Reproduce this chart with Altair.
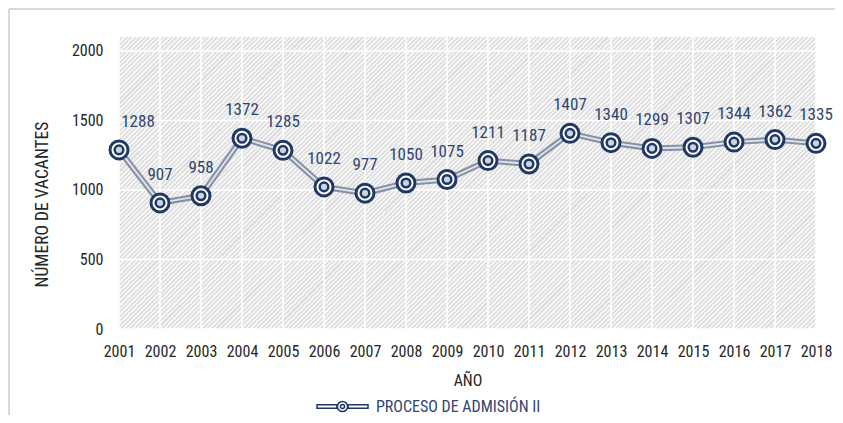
import altair as alt
import pandas as pd

# ---------------- data ----------------
years = [2001, 2002, 2003, 2004, 2005, 2006, 2007, 2008, 2009,
         2010, 2011, 2012, 2013, 2014, 2015, 2016, 2017, 2018]
vacantes = [1288, 907, 958, 1372, 1285, 1022, 977, 1050, 1075,
            1211, 1187, 1407, 1340, 1299, 1307, 1344, 1362, 1335]
y_ticks = [0, 500, 1000, 1500, 2000]
y_max = 2100
serie = "PROCESO DE ADMISIÓN II"

df = pd.DataFrame({"anio": years, "vacantes": vacantes, "serie": serie})
bg_df = pd.DataFrame({"x0": [years[0]], "x1": [years[-1]], "y0": [0], "y1": [y_max]})
ytick_df = pd.DataFrame({"v": y_ticks})
frame_df = pd.DataFrame({"a": [0]})

# ---------------- style ----------------
FONT = "Liberation Sans Narrow, Arial Narrow, Roboto Condensed, sans-serif"
NAVY = "#1f3864"
LABEL = "#2f4672"
TEXT = "#262626"
W, H = 697, 292

# fine diagonal hatch approximated with a hard-stop linear gradient
n_per = 218
stops = []
for k in range(n_per):
    a = k / n_per
    b = (k + 0.55) / n_per
    c = (k + 1) / n_per
    stops += [
        {"offset": a, "color": "#f5f5f5"},
        {"offset": b, "color": "#f5f5f5"},
        {"offset": b, "color": "#dddddd"},
        {"offset": c, "color": "#dddddd"},
    ]
hatch = alt.LinearGradient(gradient="linear", x1=0, y1=0, x2=1.207, y2=0.506, stops=stops)

x_scale = alt.Scale(domain=[years[0], years[-1]], nice=False, zero=False)
y_scale = alt.Scale(domain=[0, y_max], nice=False)

x_axis = alt.Axis(values=years, format="d", labelFont=FONT, labelFontSize=16,
                  labelColor=TEXT, labelPadding=14, labelFlush=False, labelOverlap=False,
                  title="AÑO", titleFont=FONT, titleFontSize=16, titleFontWeight="normal",
                  titleColor=TEXT, titleY=51, titleBaseline="middle",
                  grid=False, domain=False, ticks=False)
y_axis = alt.Axis(values=y_ticks, format="d", labelFont=FONT, labelFontSize=16, labelColor=TEXT,
                  labelPadding=16, title="NÚMERO DE VACANTES", titleFont=FONT,
                  titleFontSize=17.5, titleFontWeight="normal", titleColor=TEXT,
                  titleX=-77, titleY=167, titleAngle=270, titleAlign="center",
                  titleBaseline="middle", grid=False, domain=False, ticks=False)

X = alt.X("anio:Q", scale=x_scale, axis=x_axis)
Y = alt.Y("vacantes:Q", scale=y_scale, axis=y_axis)

# light chart-area frame (top and left edges are the only visible ones)
frame_top = alt.Chart(frame_df).mark_rule(color="#d9d9d9", strokeWidth=2).encode(
    x=alt.value(-110), x2=alt.value(W + 500), y=alt.value(-28)
)
frame_left = alt.Chart(frame_df).mark_rule(color="#d9d9d9", strokeWidth=2).encode(
    x=alt.value(-110), y=alt.value(-28), y2=alt.value(H + 500)
)

bg = alt.Chart(bg_df).mark_rect(fill=hatch).encode(
    x=alt.X("x0:Q", scale=x_scale, axis=x_axis), x2="x1",
    y=alt.Y("y0:Q", scale=y_scale, axis=y_axis), y2="y1",
)

vgrid = alt.Chart(df).mark_rule(color="white", strokeWidth=1.5).encode(
    x=alt.X("anio:Q", scale=x_scale, axis=x_axis)
)
hgrid = alt.Chart(ytick_df).mark_rule(color="white", strokeWidth=1.5).encode(
    y=alt.Y("v:Q", scale=y_scale, axis=y_axis)
)

line_outer = alt.Chart(df).mark_line(color="#8792a6", strokeWidth=6).encode(x=X, y=Y)
line_inner = alt.Chart(df).mark_line(color="#e3e7ed", strokeWidth=1.8).encode(x=X, y=Y)

LEG_PATH = ("M-1,-0.07 L-0.22,-0.07 L-0.22,0.07 L-1,0.07 Z "
            "M0.22,-0.07 L1,-0.07 L1,0.07 L0.22,0.07 Z "
            "M0.2,0 A0.2,0.2 0 1,1 -0.2,0 A0.2,0.2 0 1,1 0.2,0 Z "
            "M0.08,0 A0.08,0.08 0 1,1 -0.08,0 A0.08,0.08 0 1,1 0.08,0 Z")

ring_outer = alt.Chart(df).mark_point(filled=False, fill="white", size=324,
                                      strokeWidth=3, opacity=1).encode(
    x=X, y=Y,
    color=alt.Color("serie:N", scale=alt.Scale(range=[NAVY]),
                    legend=alt.Legend(title=None, orient="none", legendX=197, legendY=343,
                                      symbolType=LEG_PATH, symbolSize=2601,
                                      symbolStrokeWidth=1.5, symbolFillColor="#e9ecf1",
                                      labelFont=FONT, labelFontSize=16, labelColor=LABEL,
                                      labelOffset=7, labelLimit=0, padding=0)),
)
ring_inner = alt.Chart(df).mark_point(filled=False, fill="#cfd4dd", size=74,
                                      strokeWidth=2.5, color=NAVY, opacity=1).encode(x=X, y=Y)

labels = alt.Chart(df).transform_filter(alt.datum.anio != years[0]).mark_text(
    dy=-28, font=FONT, fontSize=17, color=LABEL
).encode(x=X, y=Y, text="vacantes:Q")
label_first = alt.Chart(df).transform_filter(alt.datum.anio == years[0]).mark_text(
    dy=-28, dx=19, font=FONT, fontSize=17, color=LABEL
).encode(x=X, y=Y, text="vacantes:Q")

chart = alt.layer(
    frame_top, frame_left, bg, vgrid, hgrid, line_outer, line_inner,
    ring_outer, ring_inner, labels, label_first
).properties(
    width=W, height=H, autosize="none",
    padding={"left": 111, "top": 29, "right": 19, "bottom": 86},
    background="white",
).configure_view(stroke=None)

chart.save("out.html", embed_options={"renderer": "svg", "actions": False})
